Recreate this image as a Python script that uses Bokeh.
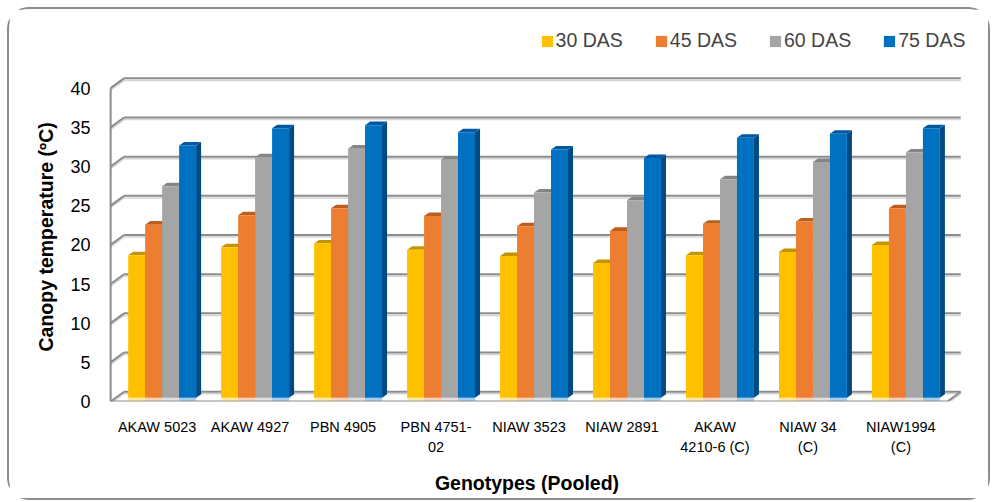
from bokeh.plotting import figure
from bokeh.models import Range1d, LinearAxis, FixedTicker, Legend, LegendItem, Title
from bokeh.embed import file_html
from bokeh.resources import INLINE

# ---------------- data ----------------
genotypes = ["AKAW 5023", "AKAW 4927", "PBN 4905", "PBN 4751-\n02", "NIAW 3523",
             "NIAW 2891", "AKAW\n4210-6 (C)", "NIAW 34\n(C)", "NIAW1994\n(C)"]
das30 = [18.2, 19.2, 19.7, 18.9, 18.1, 17.2, 18.2, 18.6, 19.5]
das45 = [22.1, 23.3, 24.2, 23.2, 21.9, 21.3, 22.2, 22.5, 24.2]
das60 = [27.0, 30.7, 31.8, 30.4, 26.2, 25.2, 27.9, 30.1, 31.3]
das75 = [32.2, 34.4, 34.8, 33.9, 31.7, 30.6, 33.2, 33.7, 34.4]
series_names = ["30 DAS", "45 DAS", "60 DAS", "75 DAS"]
y_ticks = [0, 5, 10, 15, 20, 25, 30, 35, 40]
x_title = "Genotypes (Pooled)"
y_title = "Canopy temperature (ºC)"

# ---------------- style / layout ----------------
FRONT = ["#FFC000", "#ED7D31", "#A5A5A5", "#0070C0"]
TOP = ["#C49300", "#BC5E1E", "#858585", "#0058A0"]
SIDE = ["#A87E00", "#A0501A", "#737373", "#004A84"]
FONT = "Liberation Sans"
GRID = "#8C8C8C"
GRID_LIGHT = "#D4D4D4"

W, H = 983, 493                 # outer box incl. 2px css border
CX0, CY0 = 9, 9                 # page position of canvas (7 margin + 2 border)
CW, CH = W - 4, H - 4           # canvas size
FRAME_L, FRAME_R, FRAME_T, FRAME_B = 88, 961, 25, 397   # page px
PX = 92.55                      # px per category
PY = 7.75                       # px per unit of temperature
CAT0 = 161.3                    # page x of first category (bar plane)
Z0 = 393.3                      # page y of zero (bar plane)
FX, FY = 5 / PX, (FRAME_B - Z0) / PY   # front plane offset (left / down)
BX, BY = 8.3 / PX, 6 / PY       # back plane offset (right / up)
DX, DY = 5.0 / PX, 3.5 / PY     # bar depth
BW = 16.9 / PX                  # bar width

x_start = (FRAME_L - CAT0) / PX
x_end = (FRAME_R - CAT0) / PX
y_start = -(FRAME_B - Z0) / PY
y_end = (Z0 - FRAME_T) / PY

p = figure(width=W, height=H, output_backend="svg", toolbar_location=None,
           x_range=Range1d(x_start, x_end), y_range=Range1d(y_start, y_end),
           x_axis_location=None, y_axis_location=None,
           min_border_left=FRAME_L - CX0, min_border_right=CX0 + CW - FRAME_R,
           min_border_top=FRAME_T - CY0, min_border_bottom=CY0 + CH - FRAME_B)
p.outline_line_color = None
p.xgrid.visible = False
p.ygrid.visible = False
p.styles = {"border": "2px solid #8c8c8c", "border-radius": "22px", "margin": "7px 0 0 7px"}

p.extra_x_ranges = {"front": Range1d(x_start + FX, x_end + FX)}
p.extra_y_ranges = {"front": Range1d(y_start + FY, y_end + FY)}

n = len(genotypes)
lo, hi = -0.5, n - 0.5
ymax = y_ticks[-1]
L2 = 2.0 / PY

# back wall + left wall gridlines, floor edges
for off, col, w in [(-L2, GRID_LIGHT, 1.5), (0.0, GRID, 2.0)]:
    p.segment(x0=[lo + BX] * len(y_ticks), x1=[hi + BX] * len(y_ticks),
              y0=[v + BY + off for v in y_ticks], y1=[v + BY + off for v in y_ticks],
              line_color=col, line_width=w)
    p.segment(x0=[lo - FX] * len(y_ticks), x1=[lo + BX] * len(y_ticks),
              y0=[v - FY + off for v in y_ticks], y1=[v + BY + off for v in y_ticks],
              line_color=col, line_width=w)
    p.segment(x0=[lo - FX, hi - FX], y0=[-FY + off, -FY + off],
              x1=[hi - FX, hi + BX], y1=[-FY + off, BY + off],
              line_color=col, line_width=w)
# front left edge of the side wall
p.segment(x0=[lo - FX], y0=[-FY], x1=[lo - FX], y1=[ymax - FY], line_color=GRID, line_width=2)

# bars
items = []
for j, vals in enumerate([das30, das45, das60, das75]):
    xs = [i + (j - 1.5) * BW for i in range(n)]
    x0s = [x - BW / 2 for x in xs]
    x1s = [x + BW / 2 for x in xs]
    p.quad(left=x0s, right=x1s, bottom=[-FY + 0.8 / PY] * n, top=[0] * n,
           fill_color=FRONT[j], fill_alpha=0.35, line_color=None)
    p.patches(xs=[[a, a + DX, a + DX, a] for a in x1s],
              ys=[[0, DY, v + DY, v] for v in vals],
              fill_color=SIDE[j], line_color=None)
    p.patches(xs=[[a, b, b + DX, a + DX] for a, b in zip(x0s, x1s)],
              ys=[[v, v, v + DY, v + DY] for v in vals],
              fill_color=TOP[j], line_color=None)
    r = p.vbar(x=xs, width=BW, bottom=0, top=vals, fill_color=FRONT[j], line_color=None)
    items.append(LegendItem(label=series_names[j], renderers=[r]))

# axes
yaxis = LinearAxis(y_range_name="front", ticker=FixedTicker(ticks=y_ticks), bounds=(0, ymax))
yaxis.axis_line_color = None
yaxis.major_tick_line_color = None
yaxis.minor_tick_line_color = None
yaxis.major_tick_in = 0
yaxis.major_tick_out = 0
yaxis.major_label_standoff = -2
yaxis.major_label_text_font = FONT
yaxis.major_label_text_font_size = "18px"
yaxis.major_label_text_color = "black"
p.add_layout(yaxis, "left")

ytitle = Title(text=y_title, align="left", offset=50, vertical_align="middle", standoff=20,
               text_font=FONT, text_font_size="19.5px", text_font_style="bold",
               text_color="black")
p.add_layout(ytitle, "left")

xaxis = LinearAxis(x_range_name="front", ticker=FixedTicker(ticks=list(range(n))),
                   bounds=(lo, hi), axis_label=x_title,
                   major_label_overrides={i: g for i, g in enumerate(genotypes)})
xaxis.axis_line_color = None
xaxis.major_tick_line_color = None
xaxis.minor_tick_line_color = None
xaxis.major_tick_in = 0
xaxis.major_tick_out = 0
xaxis.major_label_standoff = 17
xaxis.major_label_text_font = FONT
xaxis.major_label_text_font_size = "14.5px"
xaxis.major_label_text_line_height = 1.3
xaxis.major_label_text_color = "black"
xaxis.axis_label_text_font = FONT
xaxis.axis_label_text_font_size = "19.5px"
xaxis.axis_label_text_font_style = "bold"
xaxis.axis_label_text_color = "black"
xaxis.axis_label_standoff = 14
p.add_layout(xaxis, "below")

legend = Legend(items=items, orientation="horizontal", location=(539.6 - FRAME_L, FRAME_B - 48),
                glyph_width=14, glyph_height=14, label_standoff=2, spacing=31,
                padding=0, margin=0, border_line_color=None, background_fill_alpha=0,
                label_text_font=FONT, label_text_font_size="19.5px", label_height=20)
p.add_layout(legend, "center")

open("out.html", "w").write(file_html(p, INLINE))
